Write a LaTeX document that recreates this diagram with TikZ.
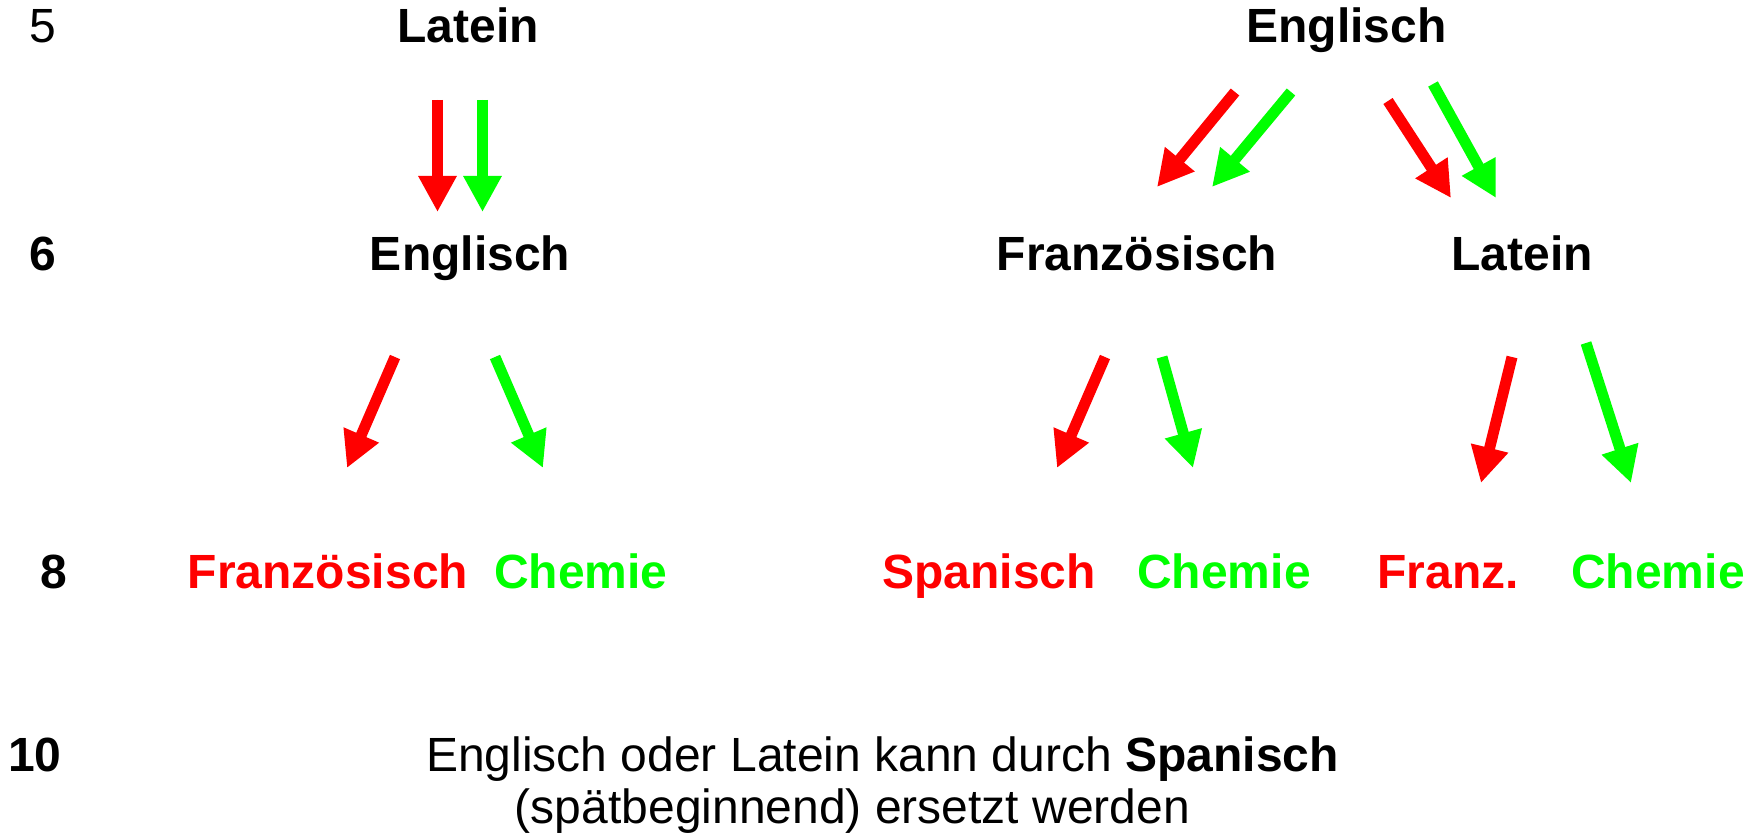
\documentclass[tikz,border=0pt]{standalone}
\usepackage{fontspec}
\setmainfont{Liberation Sans}
\usetikzlibrary{arrows.meta}
\definecolor{cred}{RGB}{255,0,0}
\definecolor{cgreen}{RGB}{0,255,0}
\tikzset{
  lbl/.style={anchor=base, inner sep=0pt, font=\fontsize{48}{52}\selectfont},
  blbl/.style={lbl, font=\fontsize{48}{52}\selectfont\bfseries},
  arr/.style={line width=11pt, -{Triangle[length=36pt,width=36pt]}},
  rarr/.style={arr, draw=cred, fill=cred},
  garr/.style={arr, draw=cgreen, fill=cgreen}
}
\begin{document}
\begin{tikzpicture}[x=1pt,y=-1pt]
\useasboundingbox (0,0) rectangle (1764,837);
% year labels
\node[lbl]  (y5)  at (42.6,43) {5};
\node[blbl] (y6)  at (42.6,270) {6};
\node[blbl] (y8)  at (54,588) {8};
\node[blbl] (y10) at (35,771) {10};
% left tree
\node[blbl] (lat5) at (468,43) {Latein};
\node[blbl] (eng6) at (470,270) {Englisch};
\node[blbl, text=cred]   (fr8l)  at (328,588) {Französisch};
\node[blbl, text=cgreen] (ch8l)  at (581,588) {Chemie};
% right tree
\node[blbl] (eng5) at (1346.6,43) {Englisch};
\node[blbl] (fr6)  at (1137,270) {Französisch};
\node[blbl] (lat6) at (1522,270) {Latein};
\node[blbl, text=cred]   (sp8)  at (989,588) {Spanisch};
\node[blbl, text=cgreen] (ch8a) at (1224,588) {Chemie};
\node[blbl, text=cred]   (fz8)  at (1448,588) {Franz.};
\node[blbl, text=cgreen] (ch8b) at (1658,588) {Chemie};
% bottom text
\node[lbl] (t1) at (882.5,771) {Englisch oder Latein kann durch \textbf{Spanisch}};
\node[lbl] (t2) at (852.5,823) {(spätbeginnend) ersetzt werden};
% arrow coordinates
\coordinate (a1s) at (437.5,100); \coordinate (a1e) at (437.5,212);
\coordinate (a2s) at (482.5,100); \coordinate (a2e) at (482.5,212);
\coordinate (a3s) at (395,357);   \coordinate (a3e) at (347,468);
\coordinate (a4s) at (495,357);   \coordinate (a4e) at (543,468);
\coordinate (b1s) at (1235,92);   \coordinate (b1e) at (1157,187);
\coordinate (b2s) at (1291,92);   \coordinate (b2e) at (1212,187);
\coordinate (b3s) at (1388,101);  \coordinate (b3e) at (1451,198);
\coordinate (b4s) at (1433,84);   \coordinate (b4e) at (1496,198);
\coordinate (b5s) at (1105,357);  \coordinate (b5e) at (1057,468);
\coordinate (b6s) at (1162,357);  \coordinate (b6e) at (1193,468);
\coordinate (b7s) at (1512,357);  \coordinate (b7e) at (1481,483);
\coordinate (b8s) at (1586,343);  \coordinate (b8e) at (1631,483);
% arrows
\draw[rarr] (a1s) -- (a1e);
\draw[garr] (a2s) -- (a2e);
\draw[rarr] (a3s) -- (a3e);
\draw[garr] (a4s) -- (a4e);
\draw[rarr] (b1s) -- (b1e);
\draw[garr] (b2s) -- (b2e);
\draw[rarr] (b3s) -- (b3e);
\draw[garr] (b4s) -- (b4e);
\draw[rarr] (b5s) -- (b5e);
\draw[garr] (b6s) -- (b6e);
\draw[rarr] (b7s) -- (b7e);
\draw[garr] (b8s) -- (b8e);
\end{tikzpicture}
\end{document}
